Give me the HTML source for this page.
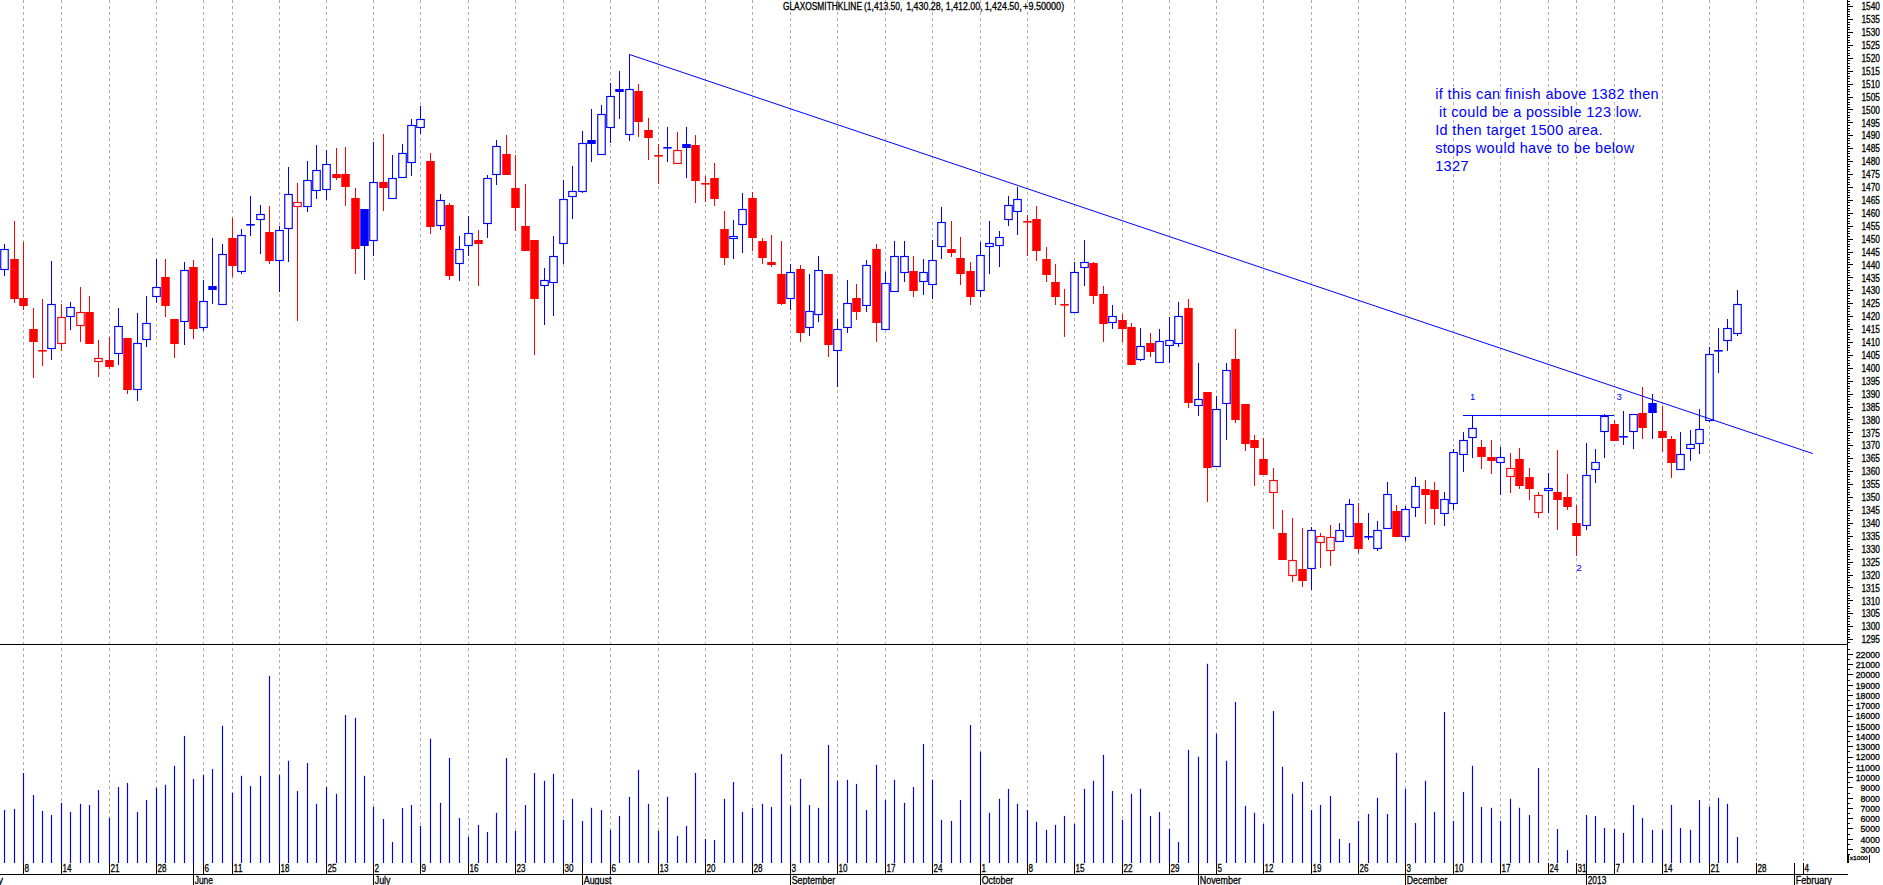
<!DOCTYPE html>
<html lang="en"><head><meta charset="utf-8"><title>GLAXOSMITHKLINE chart</title>
<style>html,body{margin:0;padding:0;background:#fff;overflow:hidden}body{width:1883px;height:885px}svg{display:block;font-family:"Liberation Sans",Arial,sans-serif}.g{stroke:#adadad;stroke-width:1;stroke-dasharray:3 3;fill:none}.k{stroke:#000;stroke-width:1;fill:none}.v{stroke:#0000ff;stroke-width:1.15}.wb{stroke:#0000ff;stroke-width:1}.wr{stroke:#ff0000;stroke-width:1}.hb{fill:#fff;stroke:#0000ff;stroke-width:1.15}.hr{fill:#fff;stroke:#ff0000;stroke-width:1.15}.fb{fill:#0000ff}.fr{fill:#ff0000}.t{font-size:10px;fill:#000;stroke:#000;stroke-width:0.3px}.bl{fill:#0000ff}</style></head><body>
<svg width="1883" height="885" viewBox="0 0 1883 885">
<rect width="1883" height="885" fill="#fff"/>
<g class="g">
<line x1="23.5" y1="0" x2="23.5" y2="862.5"/>
<line x1="61.5" y1="0" x2="61.5" y2="862.5"/>
<line x1="109.5" y1="0" x2="109.5" y2="862.5"/>
<line x1="156.5" y1="0" x2="156.5" y2="862.5"/>
<line x1="203.5" y1="0" x2="203.5" y2="862.5"/>
<line x1="232.5" y1="0" x2="232.5" y2="862.5"/>
<line x1="279.5" y1="0" x2="279.5" y2="862.5"/>
<line x1="326.5" y1="0" x2="326.5" y2="862.5"/>
<line x1="373.5" y1="0" x2="373.5" y2="862.5"/>
<line x1="420.5" y1="0" x2="420.5" y2="862.5"/>
<line x1="468.5" y1="0" x2="468.5" y2="862.5"/>
<line x1="515.5" y1="0" x2="515.5" y2="862.5"/>
<line x1="563.5" y1="0" x2="563.5" y2="862.5"/>
<line x1="610.5" y1="0" x2="610.5" y2="862.5"/>
<line x1="658.5" y1="0" x2="658.5" y2="862.5"/>
<line x1="705.5" y1="0" x2="705.5" y2="862.5"/>
<line x1="752.5" y1="0" x2="752.5" y2="862.5"/>
<line x1="790.5" y1="0" x2="790.5" y2="862.5"/>
<line x1="837.5" y1="0" x2="837.5" y2="862.5"/>
<line x1="885.5" y1="0" x2="885.5" y2="862.5"/>
<line x1="932.5" y1="0" x2="932.5" y2="862.5"/>
<line x1="980.5" y1="0" x2="980.5" y2="862.5"/>
<line x1="1027.5" y1="0" x2="1027.5" y2="862.5"/>
<line x1="1074.5" y1="0" x2="1074.5" y2="862.5"/>
<line x1="1122.5" y1="0" x2="1122.5" y2="862.5"/>
<line x1="1169.5" y1="0" x2="1169.5" y2="862.5"/>
<line x1="1216.5" y1="0" x2="1216.5" y2="862.5"/>
<line x1="1263.5" y1="0" x2="1263.5" y2="862.5"/>
<line x1="1311.5" y1="0" x2="1311.5" y2="862.5"/>
<line x1="1358.5" y1="0" x2="1358.5" y2="862.5"/>
<line x1="1405.5" y1="0" x2="1405.5" y2="862.5"/>
<line x1="1453.5" y1="0" x2="1453.5" y2="862.5"/>
<line x1="1500.5" y1="0" x2="1500.5" y2="862.5"/>
<line x1="1548.5" y1="0" x2="1548.5" y2="862.5"/>
<line x1="1576.5" y1="0" x2="1576.5" y2="862.5"/>
<line x1="1614.5" y1="0" x2="1614.5" y2="862.5"/>
<line x1="1662.5" y1="0" x2="1662.5" y2="862.5"/>
<line x1="1709.5" y1="0" x2="1709.5" y2="862.5"/>
<line x1="1756.5" y1="0" x2="1756.5" y2="862.5"/>
<line x1="1803.5" y1="0" x2="1803.5" y2="862.5"/>
</g>
<g class="v">
<line x1="4.5" y1="810.0" x2="4.5" y2="863"/>
<line x1="14.5" y1="809.0" x2="14.5" y2="863"/>
<line x1="23.5" y1="773.0" x2="23.5" y2="863"/>
<line x1="33.5" y1="795.0" x2="33.5" y2="863"/>
<line x1="42.5" y1="810.9" x2="42.5" y2="863"/>
<line x1="51.5" y1="815.0" x2="51.5" y2="863"/>
<line x1="61.5" y1="802.9" x2="61.5" y2="863"/>
<line x1="70.5" y1="811.9" x2="70.5" y2="863"/>
<line x1="80.5" y1="803.8" x2="80.5" y2="863"/>
<line x1="89.5" y1="805.0" x2="89.5" y2="863"/>
<line x1="98.5" y1="790.0" x2="98.5" y2="863"/>
<line x1="109.5" y1="818.0" x2="109.5" y2="863"/>
<line x1="118.5" y1="787.0" x2="118.5" y2="863"/>
<line x1="127.5" y1="782.9" x2="127.5" y2="863"/>
<line x1="137.5" y1="811.9" x2="137.5" y2="863"/>
<line x1="146.5" y1="800.0" x2="146.5" y2="863"/>
<line x1="156.5" y1="787.9" x2="156.5" y2="863"/>
<line x1="165.5" y1="784.8" x2="165.5" y2="863"/>
<line x1="174.5" y1="765.8" x2="174.5" y2="863"/>
<line x1="184.5" y1="735.9" x2="184.5" y2="863"/>
<line x1="193.5" y1="778.9" x2="193.5" y2="863"/>
<line x1="203.5" y1="774.9" x2="203.5" y2="863"/>
<line x1="212.5" y1="768.9" x2="212.5" y2="863"/>
<line x1="222.5" y1="725.7" x2="222.5" y2="863"/>
<line x1="232.5" y1="792.9" x2="232.5" y2="863"/>
<line x1="241.5" y1="775.8" x2="241.5" y2="863"/>
<line x1="250.5" y1="786.0" x2="250.5" y2="863"/>
<line x1="260.5" y1="775.8" x2="260.5" y2="863"/>
<line x1="269.5" y1="675.9" x2="269.5" y2="863"/>
<line x1="279.5" y1="774.9" x2="279.5" y2="863"/>
<line x1="288.5" y1="760.8" x2="288.5" y2="863"/>
<line x1="297.5" y1="791.0" x2="297.5" y2="863"/>
<line x1="307.5" y1="763.0" x2="307.5" y2="863"/>
<line x1="316.5" y1="803.8" x2="316.5" y2="863"/>
<line x1="326.5" y1="787.0" x2="326.5" y2="863"/>
<line x1="336.5" y1="793.8" x2="336.5" y2="863"/>
<line x1="345.5" y1="715.0" x2="345.5" y2="863"/>
<line x1="355.5" y1="717.9" x2="355.5" y2="863"/>
<line x1="364.5" y1="775.8" x2="364.5" y2="863"/>
<line x1="373.5" y1="806.9" x2="373.5" y2="863"/>
<line x1="383.5" y1="819.0" x2="383.5" y2="863"/>
<line x1="392.5" y1="842.0" x2="392.5" y2="863"/>
<line x1="402.5" y1="808.1" x2="402.5" y2="863"/>
<line x1="411.5" y1="805.0" x2="411.5" y2="863"/>
<line x1="420.5" y1="825.9" x2="420.5" y2="863"/>
<line x1="430.5" y1="738.8" x2="430.5" y2="863"/>
<line x1="440.5" y1="802.9" x2="440.5" y2="863"/>
<line x1="449.5" y1="758.0" x2="449.5" y2="863"/>
<line x1="459.5" y1="818.0" x2="459.5" y2="863"/>
<line x1="468.5" y1="836.8" x2="468.5" y2="863"/>
<line x1="478.5" y1="824.9" x2="478.5" y2="863"/>
<line x1="487.5" y1="832.0" x2="487.5" y2="863"/>
<line x1="496.5" y1="812.8" x2="496.5" y2="863"/>
<line x1="506.5" y1="758.0" x2="506.5" y2="863"/>
<line x1="515.5" y1="830.9" x2="515.5" y2="863"/>
<line x1="525.5" y1="805.0" x2="525.5" y2="863"/>
<line x1="534.5" y1="773.0" x2="534.5" y2="863"/>
<line x1="544.5" y1="780.8" x2="544.5" y2="863"/>
<line x1="553.5" y1="773.9" x2="553.5" y2="863"/>
<line x1="563.5" y1="819.9" x2="563.5" y2="863"/>
<line x1="572.5" y1="798.8" x2="572.5" y2="863"/>
<line x1="582.5" y1="820.9" x2="582.5" y2="863"/>
<line x1="591.5" y1="807.8" x2="591.5" y2="863"/>
<line x1="601.5" y1="810.0" x2="601.5" y2="863"/>
<line x1="610.5" y1="829.9" x2="610.5" y2="863"/>
<line x1="619.5" y1="815.9" x2="619.5" y2="863"/>
<line x1="629.5" y1="796.9" x2="629.5" y2="863"/>
<line x1="638.5" y1="769.9" x2="638.5" y2="863"/>
<line x1="648.5" y1="803.8" x2="648.5" y2="863"/>
<line x1="658.5" y1="830.9" x2="658.5" y2="863"/>
<line x1="667.5" y1="796.9" x2="667.5" y2="863"/>
<line x1="677.5" y1="835.8" x2="677.5" y2="863"/>
<line x1="686.5" y1="825.9" x2="686.5" y2="863"/>
<line x1="695.5" y1="773.0" x2="695.5" y2="863"/>
<line x1="705.5" y1="838.9" x2="705.5" y2="863"/>
<line x1="714.5" y1="839.9" x2="714.5" y2="863"/>
<line x1="724.5" y1="798.8" x2="724.5" y2="863"/>
<line x1="733.5" y1="782.0" x2="733.5" y2="863"/>
<line x1="742.5" y1="811.9" x2="742.5" y2="863"/>
<line x1="752.5" y1="807.8" x2="752.5" y2="863"/>
<line x1="762.5" y1="803.8" x2="762.5" y2="863"/>
<line x1="771.5" y1="806.9" x2="771.5" y2="863"/>
<line x1="781.5" y1="754.0" x2="781.5" y2="863"/>
<line x1="790.5" y1="805.9" x2="790.5" y2="863"/>
<line x1="800.5" y1="778.9" x2="800.5" y2="863"/>
<line x1="809.5" y1="805.0" x2="809.5" y2="863"/>
<line x1="818.5" y1="807.8" x2="818.5" y2="863"/>
<line x1="828.5" y1="744.9" x2="828.5" y2="863"/>
<line x1="837.5" y1="780.8" x2="837.5" y2="863"/>
<line x1="847.5" y1="779.8" x2="847.5" y2="863"/>
<line x1="856.5" y1="783.9" x2="856.5" y2="863"/>
<line x1="866.5" y1="810.0" x2="866.5" y2="863"/>
<line x1="876.5" y1="764.9" x2="876.5" y2="863"/>
<line x1="885.5" y1="800.0" x2="885.5" y2="863"/>
<line x1="894.5" y1="779.8" x2="894.5" y2="863"/>
<line x1="904.5" y1="802.9" x2="904.5" y2="863"/>
<line x1="913.5" y1="787.0" x2="913.5" y2="863"/>
<line x1="923.5" y1="744.0" x2="923.5" y2="863"/>
<line x1="932.5" y1="779.8" x2="932.5" y2="863"/>
<line x1="941.5" y1="819.9" x2="941.5" y2="863"/>
<line x1="951.5" y1="820.9" x2="951.5" y2="863"/>
<line x1="960.5" y1="800.0" x2="960.5" y2="863"/>
<line x1="970.5" y1="725.0" x2="970.5" y2="863"/>
<line x1="980.5" y1="751.8" x2="980.5" y2="863"/>
<line x1="989.5" y1="812.8" x2="989.5" y2="863"/>
<line x1="999.5" y1="798.8" x2="999.5" y2="863"/>
<line x1="1008.5" y1="788.9" x2="1008.5" y2="863"/>
<line x1="1017.5" y1="803.8" x2="1017.5" y2="863"/>
<line x1="1027.5" y1="810.0" x2="1027.5" y2="863"/>
<line x1="1036.5" y1="821.8" x2="1036.5" y2="863"/>
<line x1="1046.5" y1="829.9" x2="1046.5" y2="863"/>
<line x1="1055.5" y1="824.9" x2="1055.5" y2="863"/>
<line x1="1064.5" y1="815.9" x2="1064.5" y2="863"/>
<line x1="1074.5" y1="824.0" x2="1074.5" y2="863"/>
<line x1="1084.5" y1="788.9" x2="1084.5" y2="863"/>
<line x1="1093.5" y1="780.8" x2="1093.5" y2="863"/>
<line x1="1103.5" y1="754.9" x2="1103.5" y2="863"/>
<line x1="1112.5" y1="791.0" x2="1112.5" y2="863"/>
<line x1="1122.5" y1="819.9" x2="1122.5" y2="863"/>
<line x1="1131.5" y1="793.8" x2="1131.5" y2="863"/>
<line x1="1140.5" y1="788.9" x2="1140.5" y2="863"/>
<line x1="1150.5" y1="815.9" x2="1150.5" y2="863"/>
<line x1="1159.5" y1="811.9" x2="1159.5" y2="863"/>
<line x1="1169.5" y1="829.0" x2="1169.5" y2="863"/>
<line x1="1178.5" y1="842.0" x2="1178.5" y2="863"/>
<line x1="1188.5" y1="749.9" x2="1188.5" y2="863"/>
<line x1="1198.5" y1="756.8" x2="1198.5" y2="863"/>
<line x1="1207.5" y1="663.8" x2="1207.5" y2="863"/>
<line x1="1216.5" y1="733.8" x2="1216.5" y2="863"/>
<line x1="1226.5" y1="760.8" x2="1226.5" y2="863"/>
<line x1="1235.5" y1="702.0" x2="1235.5" y2="863"/>
<line x1="1245.5" y1="805.9" x2="1245.5" y2="863"/>
<line x1="1254.5" y1="812.8" x2="1254.5" y2="863"/>
<line x1="1263.5" y1="824.0" x2="1263.5" y2="863"/>
<line x1="1273.5" y1="711.0" x2="1273.5" y2="863"/>
<line x1="1282.5" y1="766.8" x2="1282.5" y2="863"/>
<line x1="1292.5" y1="793.8" x2="1292.5" y2="863"/>
<line x1="1302.5" y1="782.0" x2="1302.5" y2="863"/>
<line x1="1311.5" y1="810.0" x2="1311.5" y2="863"/>
<line x1="1320.5" y1="805.0" x2="1320.5" y2="863"/>
<line x1="1330.5" y1="796.0" x2="1330.5" y2="863"/>
<line x1="1339.5" y1="838.9" x2="1339.5" y2="863"/>
<line x1="1349.5" y1="843.0" x2="1349.5" y2="863"/>
<line x1="1358.5" y1="820.9" x2="1358.5" y2="863"/>
<line x1="1368.5" y1="814.0" x2="1368.5" y2="863"/>
<line x1="1377.5" y1="797.9" x2="1377.5" y2="863"/>
<line x1="1387.5" y1="814.0" x2="1387.5" y2="863"/>
<line x1="1396.5" y1="752.8" x2="1396.5" y2="863"/>
<line x1="1405.5" y1="788.9" x2="1405.5" y2="863"/>
<line x1="1415.5" y1="823.0" x2="1415.5" y2="863"/>
<line x1="1425.5" y1="780.8" x2="1425.5" y2="863"/>
<line x1="1434.5" y1="811.9" x2="1434.5" y2="863"/>
<line x1="1444.5" y1="712.0" x2="1444.5" y2="863"/>
<line x1="1453.5" y1="820.9" x2="1453.5" y2="863"/>
<line x1="1463.5" y1="791.9" x2="1463.5" y2="863"/>
<line x1="1472.5" y1="765.8" x2="1472.5" y2="863"/>
<line x1="1481.5" y1="806.9" x2="1481.5" y2="863"/>
<line x1="1491.5" y1="807.8" x2="1491.5" y2="863"/>
<line x1="1500.5" y1="820.9" x2="1500.5" y2="863"/>
<line x1="1510.5" y1="798.8" x2="1510.5" y2="863"/>
<line x1="1519.5" y1="807.8" x2="1519.5" y2="863"/>
<line x1="1529.5" y1="815.0" x2="1529.5" y2="863"/>
<line x1="1538.5" y1="768.0" x2="1538.5" y2="863"/>
<line x1="1557.5" y1="829.0" x2="1557.5" y2="863"/>
<line x1="1567.5" y1="850.1" x2="1567.5" y2="863"/>
<line x1="1586.5" y1="815.0" x2="1586.5" y2="863"/>
<line x1="1595.5" y1="815.9" x2="1595.5" y2="863"/>
<line x1="1604.5" y1="828.0" x2="1604.5" y2="863"/>
<line x1="1614.5" y1="829.0" x2="1614.5" y2="863"/>
<line x1="1623.5" y1="833.0" x2="1623.5" y2="863"/>
<line x1="1633.5" y1="805.0" x2="1633.5" y2="863"/>
<line x1="1642.5" y1="818.0" x2="1642.5" y2="863"/>
<line x1="1652.5" y1="829.9" x2="1652.5" y2="863"/>
<line x1="1662.5" y1="829.9" x2="1662.5" y2="863"/>
<line x1="1671.5" y1="805.0" x2="1671.5" y2="863"/>
<line x1="1680.5" y1="828.0" x2="1680.5" y2="863"/>
<line x1="1690.5" y1="829.9" x2="1690.5" y2="863"/>
<line x1="1699.5" y1="800.0" x2="1699.5" y2="863"/>
<line x1="1709.5" y1="806.9" x2="1709.5" y2="863"/>
<line x1="1718.5" y1="797.9" x2="1718.5" y2="863"/>
<line x1="1727.5" y1="803.8" x2="1727.5" y2="863"/>
<line x1="1737.5" y1="837.0" x2="1737.5" y2="863"/>
</g>
<line class="wb" x1="4.5" y1="244" x2="4.5" y2="276"/>
<rect class="hb" x="0.75" y="249.5" width="7.5" height="20"/>
<line class="wr" x1="14.5" y1="221" x2="14.5" y2="303"/>
<rect class="fr" x="10.25" y="259" width="8.5" height="40"/>
<line class="wr" x1="23.5" y1="242" x2="23.5" y2="310"/>
<rect class="fr" x="19.25" y="298" width="8.5" height="8"/>
<line class="wr" x1="33.5" y1="308" x2="33.5" y2="378"/>
<rect class="fr" x="29.25" y="329" width="8.5" height="13"/>
<line class="wr" x1="42.5" y1="299" x2="42.5" y2="366"/>
<rect class="fr" x="38.25" y="350" width="8.5" height="1.6"/>
<line class="wb" x1="51.5" y1="261" x2="51.5" y2="360"/>
<rect class="hb" x="47.75" y="304.5" width="7.5" height="44"/>
<line class="wr" x1="61.5" y1="304" x2="61.5" y2="351"/>
<rect class="hr" x="57.75" y="317.5" width="7.5" height="26"/>
<line class="wb" x1="70.5" y1="302" x2="70.5" y2="330"/>
<rect class="hb" x="66.75" y="307.5" width="7.5" height="9"/>
<line class="wr" x1="80.5" y1="287" x2="80.5" y2="342"/>
<rect class="hr" x="76.75" y="312.5" width="7.5" height="13"/>
<line class="wr" x1="89.5" y1="296" x2="89.5" y2="344"/>
<rect class="fr" x="85.25" y="312" width="8.5" height="32"/>
<line class="wr" x1="98.5" y1="340" x2="98.5" y2="377"/>
<rect class="hr" x="94.75" y="358.5" width="7.5" height="3"/>
<line class="wr" x1="109.5" y1="337" x2="109.5" y2="369"/>
<rect class="fr" x="105.25" y="360" width="8.5" height="7"/>
<line class="wb" x1="118.5" y1="308" x2="118.5" y2="365"/>
<rect class="hb" x="114.75" y="326.5" width="7.5" height="27"/>
<line class="wr" x1="127.5" y1="338" x2="127.5" y2="394"/>
<rect class="fr" x="123.25" y="338" width="8.5" height="52"/>
<line class="wb" x1="137.5" y1="313" x2="137.5" y2="401"/>
<rect class="hb" x="133.75" y="343.5" width="7.5" height="46"/>
<line class="wb" x1="146.5" y1="296" x2="146.5" y2="347"/>
<rect class="hb" x="142.75" y="323.5" width="7.5" height="16"/>
<line class="wb" x1="156.5" y1="259" x2="156.5" y2="303"/>
<rect class="hb" x="152.75" y="287.5" width="7.5" height="9"/>
<line class="wr" x1="165.5" y1="259" x2="165.5" y2="317"/>
<rect class="fr" x="161.25" y="277" width="8.5" height="29"/>
<line class="wr" x1="174.5" y1="319" x2="174.5" y2="358"/>
<rect class="fr" x="170.25" y="319" width="8.5" height="25"/>
<line class="wb" x1="184.5" y1="262" x2="184.5" y2="345"/>
<rect class="hb" x="180.75" y="270.5" width="7.5" height="51"/>
<line class="wr" x1="193.5" y1="260" x2="193.5" y2="339"/>
<rect class="fr" x="189.25" y="267" width="8.5" height="62"/>
<line class="wb" x1="203.5" y1="280" x2="203.5" y2="331"/>
<rect class="hb" x="199.75" y="301.5" width="7.5" height="26"/>
<line class="wb" x1="212.5" y1="238" x2="212.5" y2="304"/>
<rect class="fb" x="208.25" y="286" width="8.5" height="4"/>
<line class="wb" x1="222.5" y1="244" x2="222.5" y2="305"/>
<rect class="hb" x="218.75" y="254.5" width="7.5" height="50"/>
<line class="wr" x1="232.5" y1="218" x2="232.5" y2="277"/>
<rect class="fr" x="228.25" y="238" width="8.5" height="28"/>
<line class="wb" x1="241.5" y1="229" x2="241.5" y2="274"/>
<rect class="hb" x="237.75" y="235.5" width="7.5" height="36"/>
<line class="wb" x1="250.5" y1="196" x2="250.5" y2="236"/>
<rect class="fb" x="246.25" y="224" width="8.5" height="1.6"/>
<line class="wb" x1="260.5" y1="205" x2="260.5" y2="254"/>
<rect class="hb" x="256.75" y="214.5" width="7.5" height="5"/>
<line class="wr" x1="269.5" y1="206" x2="269.5" y2="264"/>
<rect class="fr" x="265.25" y="232" width="8.5" height="29"/>
<line class="wb" x1="279.5" y1="226" x2="279.5" y2="292"/>
<rect class="hb" x="275.75" y="230.5" width="7.5" height="30"/>
<line class="wb" x1="288.5" y1="167" x2="288.5" y2="262"/>
<rect class="hb" x="284.75" y="194.5" width="7.5" height="34"/>
<line class="wr" x1="297.5" y1="183" x2="297.5" y2="321"/>
<rect class="hr" x="293.75" y="202.5" width="7.5" height="4"/>
<line class="wb" x1="307.5" y1="161" x2="307.5" y2="212"/>
<rect class="hb" x="303.75" y="180.5" width="7.5" height="26"/>
<line class="wb" x1="316.5" y1="145" x2="316.5" y2="199"/>
<rect class="hb" x="312.75" y="170.5" width="7.5" height="20"/>
<line class="wb" x1="326.5" y1="150" x2="326.5" y2="200"/>
<rect class="hb" x="322.75" y="164.5" width="7.5" height="25"/>
<line class="wr" x1="336.5" y1="148" x2="336.5" y2="180"/>
<rect class="fr" x="332.25" y="174" width="8.5" height="4"/>
<line class="wr" x1="345.5" y1="147" x2="345.5" y2="206"/>
<rect class="fr" x="341.25" y="174" width="8.5" height="13"/>
<line class="wr" x1="355.5" y1="188" x2="355.5" y2="274"/>
<rect class="fr" x="351.25" y="198" width="8.5" height="51"/>
<line class="wb" x1="364.5" y1="209" x2="364.5" y2="280"/>
<rect class="fb" x="360.25" y="209" width="8.5" height="37"/>
<line class="wb" x1="373.5" y1="142" x2="373.5" y2="256"/>
<rect class="hb" x="369.75" y="182.5" width="7.5" height="58"/>
<line class="wr" x1="383.5" y1="134" x2="383.5" y2="211"/>
<rect class="fr" x="379.25" y="182" width="8.5" height="6"/>
<line class="wb" x1="392.5" y1="155" x2="392.5" y2="199"/>
<rect class="hb" x="388.75" y="178.5" width="7.5" height="20"/>
<line class="wb" x1="402.5" y1="144" x2="402.5" y2="178"/>
<rect class="hb" x="398.75" y="153.5" width="7.5" height="24"/>
<line class="wb" x1="411.5" y1="119" x2="411.5" y2="176"/>
<rect class="hb" x="407.75" y="125.5" width="7.5" height="37"/>
<line class="wb" x1="420.5" y1="106" x2="420.5" y2="134"/>
<rect class="hb" x="416.75" y="119.5" width="7.5" height="8"/>
<line class="wr" x1="430.5" y1="153" x2="430.5" y2="234"/>
<rect class="fr" x="426.25" y="161" width="8.5" height="66"/>
<line class="wb" x1="440.5" y1="194" x2="440.5" y2="230"/>
<rect class="hb" x="436.75" y="200.5" width="7.5" height="25"/>
<line class="wr" x1="449.5" y1="203" x2="449.5" y2="280"/>
<rect class="fr" x="445.25" y="205" width="8.5" height="71"/>
<line class="wb" x1="459.5" y1="236" x2="459.5" y2="281"/>
<rect class="hb" x="455.75" y="249.5" width="7.5" height="14"/>
<line class="wb" x1="468.5" y1="216" x2="468.5" y2="256"/>
<rect class="hb" x="464.75" y="233.5" width="7.5" height="12"/>
<line class="wr" x1="478.5" y1="230" x2="478.5" y2="286"/>
<rect class="fr" x="474.25" y="240" width="8.5" height="4"/>
<line class="wb" x1="487.5" y1="175" x2="487.5" y2="238"/>
<rect class="hb" x="483.75" y="178.5" width="7.5" height="45"/>
<line class="wb" x1="496.5" y1="140" x2="496.5" y2="185"/>
<rect class="hb" x="492.75" y="146.5" width="7.5" height="28"/>
<line class="wr" x1="506.5" y1="135" x2="506.5" y2="175"/>
<rect class="fr" x="502.25" y="154" width="8.5" height="21"/>
<line class="wr" x1="515.5" y1="155" x2="515.5" y2="231"/>
<rect class="fr" x="511.25" y="188" width="8.5" height="20"/>
<line class="wr" x1="525.5" y1="184" x2="525.5" y2="251"/>
<rect class="fr" x="521.25" y="226" width="8.5" height="25"/>
<line class="wr" x1="534.5" y1="240" x2="534.5" y2="355"/>
<rect class="fr" x="530.25" y="240" width="8.5" height="59"/>
<line class="wb" x1="544.5" y1="268" x2="544.5" y2="325"/>
<rect class="hb" x="540.75" y="280.5" width="7.5" height="5"/>
<line class="wb" x1="553.5" y1="236" x2="553.5" y2="316"/>
<rect class="hb" x="549.75" y="256.5" width="7.5" height="26"/>
<line class="wb" x1="563.5" y1="180" x2="563.5" y2="264"/>
<rect class="hb" x="559.75" y="199.5" width="7.5" height="44"/>
<line class="wb" x1="572.5" y1="166" x2="572.5" y2="219"/>
<rect class="hb" x="568.75" y="191.5" width="7.5" height="5"/>
<line class="wb" x1="582.5" y1="131" x2="582.5" y2="193"/>
<rect class="hb" x="578.75" y="143.5" width="7.5" height="48"/>
<line class="wb" x1="591.5" y1="109" x2="591.5" y2="162"/>
<rect class="fb" x="587.25" y="140" width="8.5" height="4"/>
<line class="wb" x1="601.5" y1="105" x2="601.5" y2="155"/>
<rect class="hb" x="597.75" y="114.5" width="7.5" height="40"/>
<line class="wb" x1="610.5" y1="83" x2="610.5" y2="143"/>
<rect class="hb" x="606.75" y="96.5" width="7.5" height="31"/>
<line class="wb" x1="619.5" y1="71" x2="619.5" y2="119"/>
<rect class="fb" x="615.25" y="89" width="8.5" height="3"/>
<line class="wb" x1="629.5" y1="54" x2="629.5" y2="141"/>
<rect class="hb" x="625.75" y="89.5" width="7.5" height="45"/>
<line class="wr" x1="638.5" y1="84" x2="638.5" y2="137"/>
<rect class="fr" x="634.25" y="91" width="8.5" height="31"/>
<line class="wr" x1="648.5" y1="118" x2="648.5" y2="160"/>
<rect class="fr" x="644.25" y="130" width="8.5" height="8"/>
<line class="wr" x1="658.5" y1="144" x2="658.5" y2="184"/>
<rect class="fr" x="654.25" y="155" width="8.5" height="1.6"/>
<line class="wb" x1="667.5" y1="127" x2="667.5" y2="162"/>
<rect class="fb" x="663.25" y="147" width="8.5" height="1.6"/>
<line class="wr" x1="677.5" y1="132" x2="677.5" y2="164"/>
<rect class="hr" x="673.75" y="150.5" width="7.5" height="13"/>
<line class="wb" x1="686.5" y1="127" x2="686.5" y2="178"/>
<rect class="fb" x="682.25" y="144" width="8.5" height="4"/>
<line class="wr" x1="695.5" y1="135" x2="695.5" y2="203"/>
<rect class="fr" x="691.25" y="145" width="8.5" height="36"/>
<line class="wr" x1="705.5" y1="176" x2="705.5" y2="202"/>
<rect class="fr" x="701.25" y="183" width="8.5" height="1.6"/>
<line class="wr" x1="714.5" y1="163" x2="714.5" y2="206"/>
<rect class="fr" x="710.25" y="178" width="8.5" height="21"/>
<line class="wr" x1="724.5" y1="211" x2="724.5" y2="265"/>
<rect class="fr" x="720.25" y="229" width="8.5" height="29"/>
<line class="wb" x1="733.5" y1="220" x2="733.5" y2="259"/>
<rect class="hb" x="729.75" y="236.5" width="7.5" height="2"/>
<line class="wb" x1="742.5" y1="193" x2="742.5" y2="253"/>
<rect class="hb" x="738.75" y="209.5" width="7.5" height="15"/>
<line class="wr" x1="752.5" y1="192" x2="752.5" y2="251"/>
<rect class="fr" x="748.25" y="198" width="8.5" height="40"/>
<line class="wr" x1="762.5" y1="238" x2="762.5" y2="264"/>
<rect class="fr" x="758.25" y="241" width="8.5" height="17"/>
<line class="wr" x1="771.5" y1="235" x2="771.5" y2="267"/>
<rect class="fr" x="767.25" y="262" width="8.5" height="3"/>
<line class="wr" x1="781.5" y1="241" x2="781.5" y2="305"/>
<rect class="fr" x="777.25" y="274" width="8.5" height="30"/>
<line class="wb" x1="790.5" y1="264" x2="790.5" y2="310"/>
<rect class="hb" x="786.75" y="272.5" width="7.5" height="26"/>
<line class="wr" x1="800.5" y1="265" x2="800.5" y2="342"/>
<rect class="fr" x="796.25" y="269" width="8.5" height="64"/>
<line class="wb" x1="809.5" y1="274" x2="809.5" y2="336"/>
<rect class="hb" x="805.75" y="311.5" width="7.5" height="16"/>
<line class="wb" x1="818.5" y1="256" x2="818.5" y2="322"/>
<rect class="hb" x="814.75" y="270.5" width="7.5" height="44"/>
<line class="wr" x1="828.5" y1="274" x2="828.5" y2="357"/>
<rect class="fr" x="824.25" y="274" width="8.5" height="71"/>
<line class="wb" x1="837.5" y1="319" x2="837.5" y2="387"/>
<rect class="hb" x="833.75" y="329.5" width="7.5" height="21"/>
<line class="wb" x1="847.5" y1="280" x2="847.5" y2="333"/>
<rect class="hb" x="843.75" y="303.5" width="7.5" height="24"/>
<line class="wr" x1="856.5" y1="284" x2="856.5" y2="320"/>
<rect class="fr" x="852.25" y="298" width="8.5" height="14"/>
<line class="wb" x1="866.5" y1="260" x2="866.5" y2="312"/>
<rect class="hb" x="862.75" y="265.5" width="7.5" height="40"/>
<line class="wr" x1="876.5" y1="244" x2="876.5" y2="342"/>
<rect class="fr" x="872.25" y="249" width="8.5" height="74"/>
<line class="wb" x1="885.5" y1="272" x2="885.5" y2="330"/>
<rect class="hb" x="881.75" y="283.5" width="7.5" height="46"/>
<line class="wb" x1="894.5" y1="241" x2="894.5" y2="292"/>
<rect class="hb" x="890.75" y="256.5" width="7.5" height="35"/>
<line class="wb" x1="904.5" y1="241" x2="904.5" y2="282"/>
<rect class="hb" x="900.75" y="256.5" width="7.5" height="16"/>
<line class="wr" x1="913.5" y1="256" x2="913.5" y2="297"/>
<rect class="fr" x="909.25" y="271" width="8.5" height="20"/>
<line class="wb" x1="923.5" y1="259" x2="923.5" y2="295"/>
<rect class="hb" x="919.75" y="272.5" width="7.5" height="9"/>
<line class="wb" x1="932.5" y1="240" x2="932.5" y2="299"/>
<rect class="hb" x="928.75" y="260.5" width="7.5" height="24"/>
<line class="wb" x1="941.5" y1="207" x2="941.5" y2="259"/>
<rect class="hb" x="937.75" y="222.5" width="7.5" height="24"/>
<line class="wr" x1="951.5" y1="221" x2="951.5" y2="257"/>
<rect class="fr" x="947.25" y="249" width="8.5" height="4"/>
<line class="wr" x1="960.5" y1="237" x2="960.5" y2="285"/>
<rect class="fr" x="956.25" y="258" width="8.5" height="16"/>
<line class="wr" x1="970.5" y1="262" x2="970.5" y2="305"/>
<rect class="fr" x="966.25" y="271" width="8.5" height="26"/>
<line class="wb" x1="980.5" y1="242" x2="980.5" y2="297"/>
<rect class="hb" x="976.75" y="255.5" width="7.5" height="35"/>
<line class="wb" x1="989.5" y1="221" x2="989.5" y2="274"/>
<rect class="hb" x="985.75" y="243.5" width="7.5" height="3"/>
<line class="wb" x1="999.5" y1="231" x2="999.5" y2="267"/>
<rect class="hb" x="995.75" y="237.5" width="7.5" height="8"/>
<line class="wb" x1="1008.5" y1="196" x2="1008.5" y2="226"/>
<rect class="hb" x="1004.75" y="205.5" width="7.5" height="14"/>
<line class="wb" x1="1017.5" y1="187" x2="1017.5" y2="235"/>
<rect class="hb" x="1013.75" y="199.5" width="7.5" height="12"/>
<line class="wr" x1="1027.5" y1="215" x2="1027.5" y2="256"/>
<rect class="fr" x="1023.25" y="221" width="8.5" height="1.6"/>
<line class="wr" x1="1036.5" y1="206" x2="1036.5" y2="261"/>
<rect class="fr" x="1032.25" y="219" width="8.5" height="32"/>
<line class="wr" x1="1046.5" y1="247" x2="1046.5" y2="282"/>
<rect class="fr" x="1042.25" y="259" width="8.5" height="16"/>
<line class="wr" x1="1055.5" y1="264" x2="1055.5" y2="305"/>
<rect class="fr" x="1051.25" y="282" width="8.5" height="15"/>
<line class="wr" x1="1064.5" y1="289" x2="1064.5" y2="337"/>
<rect class="fr" x="1060.25" y="304" width="8.5" height="1.6"/>
<line class="wb" x1="1074.5" y1="262" x2="1074.5" y2="313"/>
<rect class="hb" x="1070.75" y="272.5" width="7.5" height="40"/>
<line class="wb" x1="1084.5" y1="240" x2="1084.5" y2="286"/>
<rect class="hb" x="1080.75" y="262.5" width="7.5" height="5"/>
<line class="wr" x1="1093.5" y1="262" x2="1093.5" y2="304"/>
<rect class="fr" x="1089.25" y="263" width="8.5" height="33"/>
<line class="wr" x1="1103.5" y1="286" x2="1103.5" y2="342"/>
<rect class="fr" x="1099.25" y="294" width="8.5" height="30"/>
<line class="wb" x1="1112.5" y1="305" x2="1112.5" y2="329"/>
<rect class="hb" x="1108.75" y="316.5" width="7.5" height="6"/>
<line class="wr" x1="1122.5" y1="314" x2="1122.5" y2="342"/>
<rect class="fr" x="1118.25" y="320" width="8.5" height="9"/>
<line class="wr" x1="1131.5" y1="323" x2="1131.5" y2="365"/>
<rect class="fr" x="1127.25" y="327" width="8.5" height="38"/>
<line class="wb" x1="1140.5" y1="328" x2="1140.5" y2="361"/>
<rect class="hb" x="1136.75" y="346.5" width="7.5" height="13"/>
<line class="wr" x1="1150.5" y1="333" x2="1150.5" y2="357"/>
<rect class="fr" x="1146.25" y="343" width="8.5" height="9"/>
<line class="wb" x1="1159.5" y1="329" x2="1159.5" y2="363"/>
<rect class="hb" x="1155.75" y="341.5" width="7.5" height="21"/>
<line class="wb" x1="1169.5" y1="317" x2="1169.5" y2="363"/>
<rect class="hb" x="1165.75" y="340.5" width="7.5" height="5"/>
<line class="wb" x1="1178.5" y1="302" x2="1178.5" y2="347"/>
<rect class="hb" x="1174.75" y="316.5" width="7.5" height="27"/>
<line class="wr" x1="1188.5" y1="299" x2="1188.5" y2="408"/>
<rect class="fr" x="1184.25" y="308" width="8.5" height="95"/>
<line class="wb" x1="1198.5" y1="363" x2="1198.5" y2="416"/>
<rect class="hb" x="1194.75" y="399.5" width="7.5" height="6"/>
<line class="wr" x1="1207.5" y1="392" x2="1207.5" y2="502"/>
<rect class="fr" x="1203.25" y="392" width="8.5" height="76"/>
<line class="wb" x1="1216.5" y1="396" x2="1216.5" y2="467"/>
<rect class="hb" x="1212.75" y="409.5" width="7.5" height="57"/>
<line class="wb" x1="1226.5" y1="363" x2="1226.5" y2="440"/>
<rect class="hb" x="1222.75" y="370.5" width="7.5" height="33"/>
<line class="wr" x1="1235.5" y1="329" x2="1235.5" y2="423"/>
<rect class="fr" x="1231.25" y="359" width="8.5" height="61"/>
<line class="wr" x1="1245.5" y1="404" x2="1245.5" y2="451"/>
<rect class="fr" x="1241.25" y="404" width="8.5" height="40"/>
<line class="wr" x1="1254.5" y1="435" x2="1254.5" y2="486"/>
<rect class="fr" x="1250.25" y="440" width="8.5" height="8"/>
<line class="wr" x1="1263.5" y1="438" x2="1263.5" y2="475"/>
<rect class="fr" x="1259.25" y="459" width="8.5" height="16"/>
<line class="wr" x1="1273.5" y1="468" x2="1273.5" y2="529"/>
<rect class="hr" x="1269.75" y="480.5" width="7.5" height="12"/>
<line class="wr" x1="1282.5" y1="510" x2="1282.5" y2="560"/>
<rect class="fr" x="1278.25" y="533" width="8.5" height="27"/>
<line class="wr" x1="1292.5" y1="518" x2="1292.5" y2="582"/>
<rect class="hr" x="1288.75" y="560.5" width="7.5" height="15"/>
<line class="wr" x1="1302.5" y1="528" x2="1302.5" y2="587"/>
<rect class="fr" x="1298.25" y="569" width="8.5" height="12"/>
<line class="wb" x1="1311.5" y1="527" x2="1311.5" y2="590"/>
<rect class="hb" x="1307.75" y="530.5" width="7.5" height="38"/>
<line class="wr" x1="1320.5" y1="533" x2="1320.5" y2="568"/>
<rect class="hr" x="1316.75" y="536.5" width="7.5" height="6"/>
<line class="wr" x1="1330.5" y1="525" x2="1330.5" y2="566"/>
<rect class="hr" x="1326.75" y="537.5" width="7.5" height="13"/>
<line class="wb" x1="1339.5" y1="523" x2="1339.5" y2="542"/>
<rect class="hb" x="1335.75" y="530.5" width="7.5" height="11"/>
<line class="wb" x1="1349.5" y1="499" x2="1349.5" y2="537"/>
<rect class="hb" x="1345.75" y="504.5" width="7.5" height="32"/>
<line class="wr" x1="1358.5" y1="503" x2="1358.5" y2="553"/>
<rect class="fr" x="1354.25" y="523" width="8.5" height="26"/>
<line class="wb" x1="1368.5" y1="513" x2="1368.5" y2="540"/>
<rect class="fb" x="1364.25" y="536" width="8.5" height="1.6"/>
<line class="wb" x1="1377.5" y1="521" x2="1377.5" y2="551"/>
<rect class="hb" x="1373.75" y="530.5" width="7.5" height="18"/>
<line class="wb" x1="1387.5" y1="482" x2="1387.5" y2="529"/>
<rect class="hb" x="1383.75" y="494.5" width="7.5" height="34"/>
<line class="wr" x1="1396.5" y1="505" x2="1396.5" y2="537"/>
<rect class="fr" x="1392.25" y="511" width="8.5" height="26"/>
<line class="wb" x1="1405.5" y1="506" x2="1405.5" y2="541"/>
<rect class="hb" x="1401.75" y="509.5" width="7.5" height="27"/>
<line class="wb" x1="1415.5" y1="477" x2="1415.5" y2="517"/>
<rect class="hb" x="1411.75" y="486.5" width="7.5" height="21"/>
<line class="wr" x1="1425.5" y1="480" x2="1425.5" y2="524"/>
<rect class="fr" x="1421.25" y="489" width="8.5" height="6"/>
<line class="wr" x1="1434.5" y1="482" x2="1434.5" y2="525"/>
<rect class="fr" x="1430.25" y="490" width="8.5" height="19"/>
<line class="wb" x1="1444.5" y1="492" x2="1444.5" y2="526"/>
<rect class="hb" x="1440.75" y="499.5" width="7.5" height="14"/>
<line class="wb" x1="1453.5" y1="449" x2="1453.5" y2="510"/>
<rect class="hb" x="1449.75" y="452.5" width="7.5" height="51"/>
<line class="wb" x1="1463.5" y1="432" x2="1463.5" y2="472"/>
<rect class="hb" x="1459.75" y="440.5" width="7.5" height="14"/>
<line class="wb" x1="1472.5" y1="416" x2="1472.5" y2="458"/>
<rect class="hb" x="1468.75" y="428.5" width="7.5" height="9"/>
<line class="wr" x1="1481.5" y1="440" x2="1481.5" y2="469"/>
<rect class="fr" x="1477.25" y="447" width="8.5" height="10"/>
<line class="wr" x1="1491.5" y1="440" x2="1491.5" y2="474"/>
<rect class="fr" x="1487.25" y="457" width="8.5" height="4"/>
<line class="wb" x1="1500.5" y1="447" x2="1500.5" y2="495"/>
<rect class="hb" x="1496.75" y="457.5" width="7.5" height="5"/>
<line class="wr" x1="1510.5" y1="453" x2="1510.5" y2="493"/>
<rect class="hr" x="1506.75" y="468.5" width="7.5" height="8"/>
<line class="wr" x1="1519.5" y1="448" x2="1519.5" y2="489"/>
<rect class="fr" x="1515.25" y="459" width="8.5" height="27"/>
<line class="wr" x1="1529.5" y1="468" x2="1529.5" y2="500"/>
<rect class="fr" x="1525.25" y="477" width="8.5" height="12"/>
<line class="wr" x1="1538.5" y1="492" x2="1538.5" y2="518"/>
<rect class="hr" x="1534.75" y="495.5" width="7.5" height="17"/>
<line class="wb" x1="1548.5" y1="473" x2="1548.5" y2="513"/>
<rect class="hb" x="1544.75" y="488.5" width="7.5" height="2"/>
<line class="wr" x1="1557.5" y1="450" x2="1557.5" y2="530"/>
<rect class="fr" x="1553.25" y="492" width="8.5" height="8"/>
<line class="wr" x1="1567.5" y1="474" x2="1567.5" y2="510"/>
<rect class="fr" x="1563.25" y="497" width="8.5" height="10"/>
<line class="wr" x1="1576.5" y1="505" x2="1576.5" y2="556"/>
<rect class="fr" x="1572.25" y="523" width="8.5" height="13"/>
<line class="wb" x1="1586.5" y1="443" x2="1586.5" y2="530"/>
<rect class="hb" x="1582.75" y="475.5" width="7.5" height="50"/>
<line class="wb" x1="1595.5" y1="449" x2="1595.5" y2="483"/>
<rect class="hb" x="1591.75" y="462.5" width="7.5" height="7"/>
<line class="wb" x1="1604.5" y1="414" x2="1604.5" y2="458"/>
<rect class="hb" x="1600.75" y="416.5" width="7.5" height="15"/>
<line class="wr" x1="1614.5" y1="420" x2="1614.5" y2="441"/>
<rect class="fr" x="1610.25" y="424" width="8.5" height="17"/>
<line class="wb" x1="1623.5" y1="411" x2="1623.5" y2="445"/>
<rect class="fb" x="1619.25" y="436" width="8.5" height="1.6"/>
<line class="wb" x1="1633.5" y1="414" x2="1633.5" y2="449"/>
<rect class="hb" x="1629.75" y="414.5" width="7.5" height="17"/>
<line class="wr" x1="1642.5" y1="387" x2="1642.5" y2="439"/>
<rect class="fr" x="1638.25" y="413" width="8.5" height="15"/>
<line class="wb" x1="1652.5" y1="394" x2="1652.5" y2="439"/>
<rect class="fb" x="1648.25" y="403" width="8.5" height="10"/>
<line class="wr" x1="1662.5" y1="406" x2="1662.5" y2="452"/>
<rect class="fr" x="1658.25" y="431" width="8.5" height="7"/>
<line class="wr" x1="1671.5" y1="436" x2="1671.5" y2="478"/>
<rect class="fr" x="1667.25" y="439" width="8.5" height="24"/>
<line class="wb" x1="1680.5" y1="432" x2="1680.5" y2="470"/>
<rect class="hb" x="1676.75" y="454.5" width="7.5" height="15"/>
<line class="wb" x1="1690.5" y1="430" x2="1690.5" y2="461"/>
<rect class="hb" x="1686.75" y="444.5" width="7.5" height="4"/>
<line class="wb" x1="1699.5" y1="409" x2="1699.5" y2="454"/>
<rect class="hb" x="1695.75" y="429.5" width="7.5" height="14"/>
<line class="wb" x1="1709.5" y1="347" x2="1709.5" y2="422"/>
<rect class="hb" x="1705.75" y="354.5" width="7.5" height="66"/>
<line class="wb" x1="1718.5" y1="328" x2="1718.5" y2="373"/>
<rect class="fb" x="1714.25" y="350" width="8.5" height="1.6"/>
<line class="wb" x1="1727.5" y1="319" x2="1727.5" y2="351"/>
<rect class="hb" x="1723.75" y="328.5" width="7.5" height="12"/>
<line class="wb" x1="1737.5" y1="290" x2="1737.5" y2="336"/>
<rect class="hb" x="1733.75" y="304.5" width="7.5" height="29"/>
<line x1="629.5" y1="54.5" x2="1812.8" y2="453.6" stroke="#0000ff" stroke-width="1"/>
<line x1="1463" y1="415.5" x2="1614" y2="415.5" stroke="#0000ff" stroke-width="1.1"/>
<g class="k" shape-rendering="crispEdges">
<line x1="0" y1="644.5" x2="1847.5" y2="644.5"/>
<line x1="1847.5" y1="0" x2="1847.5" y2="863"/>
<line x1="0" y1="874.5" x2="1847.5" y2="874.5"/>
<line x1="1847.5" y1="642.5" x2="1850.0" y2="642.5"/>
<line x1="1847.5" y1="639.5" x2="1853.0" y2="639.5"/>
<line x1="1847.5" y1="637.5" x2="1850.0" y2="637.5"/>
<line x1="1847.5" y1="634.5" x2="1850.0" y2="634.5"/>
<line x1="1847.5" y1="631.5" x2="1850.0" y2="631.5"/>
<line x1="1847.5" y1="629.5" x2="1850.0" y2="629.5"/>
<line x1="1847.5" y1="626.5" x2="1853.0" y2="626.5"/>
<line x1="1847.5" y1="624.5" x2="1850.0" y2="624.5"/>
<line x1="1847.5" y1="621.5" x2="1850.0" y2="621.5"/>
<line x1="1847.5" y1="618.5" x2="1850.0" y2="618.5"/>
<line x1="1847.5" y1="616.5" x2="1850.0" y2="616.5"/>
<line x1="1847.5" y1="613.5" x2="1853.0" y2="613.5"/>
<line x1="1847.5" y1="611.5" x2="1850.0" y2="611.5"/>
<line x1="1847.5" y1="608.5" x2="1850.0" y2="608.5"/>
<line x1="1847.5" y1="606.5" x2="1850.0" y2="606.5"/>
<line x1="1847.5" y1="603.5" x2="1850.0" y2="603.5"/>
<line x1="1847.5" y1="600.5" x2="1853.0" y2="600.5"/>
<line x1="1847.5" y1="598.5" x2="1850.0" y2="598.5"/>
<line x1="1847.5" y1="595.5" x2="1850.0" y2="595.5"/>
<line x1="1847.5" y1="593.5" x2="1850.0" y2="593.5"/>
<line x1="1847.5" y1="590.5" x2="1850.0" y2="590.5"/>
<line x1="1847.5" y1="587.5" x2="1853.0" y2="587.5"/>
<line x1="1847.5" y1="585.5" x2="1850.0" y2="585.5"/>
<line x1="1847.5" y1="582.5" x2="1850.0" y2="582.5"/>
<line x1="1847.5" y1="580.5" x2="1850.0" y2="580.5"/>
<line x1="1847.5" y1="577.5" x2="1850.0" y2="577.5"/>
<line x1="1847.5" y1="575.5" x2="1853.0" y2="575.5"/>
<line x1="1847.5" y1="572.5" x2="1850.0" y2="572.5"/>
<line x1="1847.5" y1="569.5" x2="1850.0" y2="569.5"/>
<line x1="1847.5" y1="567.5" x2="1850.0" y2="567.5"/>
<line x1="1847.5" y1="564.5" x2="1850.0" y2="564.5"/>
<line x1="1847.5" y1="562.5" x2="1853.0" y2="562.5"/>
<line x1="1847.5" y1="559.5" x2="1850.0" y2="559.5"/>
<line x1="1847.5" y1="556.5" x2="1850.0" y2="556.5"/>
<line x1="1847.5" y1="554.5" x2="1850.0" y2="554.5"/>
<line x1="1847.5" y1="551.5" x2="1850.0" y2="551.5"/>
<line x1="1847.5" y1="549.5" x2="1853.0" y2="549.5"/>
<line x1="1847.5" y1="546.5" x2="1850.0" y2="546.5"/>
<line x1="1847.5" y1="544.5" x2="1850.0" y2="544.5"/>
<line x1="1847.5" y1="541.5" x2="1850.0" y2="541.5"/>
<line x1="1847.5" y1="538.5" x2="1850.0" y2="538.5"/>
<line x1="1847.5" y1="536.5" x2="1853.0" y2="536.5"/>
<line x1="1847.5" y1="533.5" x2="1850.0" y2="533.5"/>
<line x1="1847.5" y1="531.5" x2="1850.0" y2="531.5"/>
<line x1="1847.5" y1="528.5" x2="1850.0" y2="528.5"/>
<line x1="1847.5" y1="525.5" x2="1850.0" y2="525.5"/>
<line x1="1847.5" y1="523.5" x2="1853.0" y2="523.5"/>
<line x1="1847.5" y1="520.5" x2="1850.0" y2="520.5"/>
<line x1="1847.5" y1="518.5" x2="1850.0" y2="518.5"/>
<line x1="1847.5" y1="515.5" x2="1850.0" y2="515.5"/>
<line x1="1847.5" y1="513.5" x2="1850.0" y2="513.5"/>
<line x1="1847.5" y1="510.5" x2="1853.0" y2="510.5"/>
<line x1="1847.5" y1="507.5" x2="1850.0" y2="507.5"/>
<line x1="1847.5" y1="505.5" x2="1850.0" y2="505.5"/>
<line x1="1847.5" y1="502.5" x2="1850.0" y2="502.5"/>
<line x1="1847.5" y1="500.5" x2="1850.0" y2="500.5"/>
<line x1="1847.5" y1="497.5" x2="1853.0" y2="497.5"/>
<line x1="1847.5" y1="494.5" x2="1850.0" y2="494.5"/>
<line x1="1847.5" y1="492.5" x2="1850.0" y2="492.5"/>
<line x1="1847.5" y1="489.5" x2="1850.0" y2="489.5"/>
<line x1="1847.5" y1="487.5" x2="1850.0" y2="487.5"/>
<line x1="1847.5" y1="484.5" x2="1853.0" y2="484.5"/>
<line x1="1847.5" y1="482.5" x2="1850.0" y2="482.5"/>
<line x1="1847.5" y1="479.5" x2="1850.0" y2="479.5"/>
<line x1="1847.5" y1="476.5" x2="1850.0" y2="476.5"/>
<line x1="1847.5" y1="474.5" x2="1850.0" y2="474.5"/>
<line x1="1847.5" y1="471.5" x2="1853.0" y2="471.5"/>
<line x1="1847.5" y1="469.5" x2="1850.0" y2="469.5"/>
<line x1="1847.5" y1="466.5" x2="1850.0" y2="466.5"/>
<line x1="1847.5" y1="463.5" x2="1850.0" y2="463.5"/>
<line x1="1847.5" y1="461.5" x2="1850.0" y2="461.5"/>
<line x1="1847.5" y1="458.5" x2="1853.0" y2="458.5"/>
<line x1="1847.5" y1="456.5" x2="1850.0" y2="456.5"/>
<line x1="1847.5" y1="453.5" x2="1850.0" y2="453.5"/>
<line x1="1847.5" y1="450.5" x2="1850.0" y2="450.5"/>
<line x1="1847.5" y1="448.5" x2="1850.0" y2="448.5"/>
<line x1="1847.5" y1="445.5" x2="1853.0" y2="445.5"/>
<line x1="1847.5" y1="443.5" x2="1850.0" y2="443.5"/>
<line x1="1847.5" y1="440.5" x2="1850.0" y2="440.5"/>
<line x1="1847.5" y1="438.5" x2="1850.0" y2="438.5"/>
<line x1="1847.5" y1="435.5" x2="1850.0" y2="435.5"/>
<line x1="1847.5" y1="432.5" x2="1853.0" y2="432.5"/>
<line x1="1847.5" y1="430.5" x2="1850.0" y2="430.5"/>
<line x1="1847.5" y1="427.5" x2="1850.0" y2="427.5"/>
<line x1="1847.5" y1="425.5" x2="1850.0" y2="425.5"/>
<line x1="1847.5" y1="422.5" x2="1850.0" y2="422.5"/>
<line x1="1847.5" y1="419.5" x2="1853.0" y2="419.5"/>
<line x1="1847.5" y1="417.5" x2="1850.0" y2="417.5"/>
<line x1="1847.5" y1="414.5" x2="1850.0" y2="414.5"/>
<line x1="1847.5" y1="412.5" x2="1850.0" y2="412.5"/>
<line x1="1847.5" y1="409.5" x2="1850.0" y2="409.5"/>
<line x1="1847.5" y1="407.5" x2="1853.0" y2="407.5"/>
<line x1="1847.5" y1="404.5" x2="1850.0" y2="404.5"/>
<line x1="1847.5" y1="401.5" x2="1850.0" y2="401.5"/>
<line x1="1847.5" y1="399.5" x2="1850.0" y2="399.5"/>
<line x1="1847.5" y1="396.5" x2="1850.0" y2="396.5"/>
<line x1="1847.5" y1="394.5" x2="1853.0" y2="394.5"/>
<line x1="1847.5" y1="391.5" x2="1850.0" y2="391.5"/>
<line x1="1847.5" y1="388.5" x2="1850.0" y2="388.5"/>
<line x1="1847.5" y1="386.5" x2="1850.0" y2="386.5"/>
<line x1="1847.5" y1="383.5" x2="1850.0" y2="383.5"/>
<line x1="1847.5" y1="381.5" x2="1853.0" y2="381.5"/>
<line x1="1847.5" y1="378.5" x2="1850.0" y2="378.5"/>
<line x1="1847.5" y1="376.5" x2="1850.0" y2="376.5"/>
<line x1="1847.5" y1="373.5" x2="1850.0" y2="373.5"/>
<line x1="1847.5" y1="370.5" x2="1850.0" y2="370.5"/>
<line x1="1847.5" y1="368.5" x2="1853.0" y2="368.5"/>
<line x1="1847.5" y1="365.5" x2="1850.0" y2="365.5"/>
<line x1="1847.5" y1="363.5" x2="1850.0" y2="363.5"/>
<line x1="1847.5" y1="360.5" x2="1850.0" y2="360.5"/>
<line x1="1847.5" y1="357.5" x2="1850.0" y2="357.5"/>
<line x1="1847.5" y1="355.5" x2="1853.0" y2="355.5"/>
<line x1="1847.5" y1="352.5" x2="1850.0" y2="352.5"/>
<line x1="1847.5" y1="350.5" x2="1850.0" y2="350.5"/>
<line x1="1847.5" y1="347.5" x2="1850.0" y2="347.5"/>
<line x1="1847.5" y1="345.5" x2="1850.0" y2="345.5"/>
<line x1="1847.5" y1="342.5" x2="1853.0" y2="342.5"/>
<line x1="1847.5" y1="339.5" x2="1850.0" y2="339.5"/>
<line x1="1847.5" y1="337.5" x2="1850.0" y2="337.5"/>
<line x1="1847.5" y1="334.5" x2="1850.0" y2="334.5"/>
<line x1="1847.5" y1="332.5" x2="1850.0" y2="332.5"/>
<line x1="1847.5" y1="329.5" x2="1853.0" y2="329.5"/>
<line x1="1847.5" y1="326.5" x2="1850.0" y2="326.5"/>
<line x1="1847.5" y1="324.5" x2="1850.0" y2="324.5"/>
<line x1="1847.5" y1="321.5" x2="1850.0" y2="321.5"/>
<line x1="1847.5" y1="319.5" x2="1850.0" y2="319.5"/>
<line x1="1847.5" y1="316.5" x2="1853.0" y2="316.5"/>
<line x1="1847.5" y1="314.5" x2="1850.0" y2="314.5"/>
<line x1="1847.5" y1="311.5" x2="1850.0" y2="311.5"/>
<line x1="1847.5" y1="308.5" x2="1850.0" y2="308.5"/>
<line x1="1847.5" y1="306.5" x2="1850.0" y2="306.5"/>
<line x1="1847.5" y1="303.5" x2="1853.0" y2="303.5"/>
<line x1="1847.5" y1="301.5" x2="1850.0" y2="301.5"/>
<line x1="1847.5" y1="298.5" x2="1850.0" y2="298.5"/>
<line x1="1847.5" y1="295.5" x2="1850.0" y2="295.5"/>
<line x1="1847.5" y1="293.5" x2="1850.0" y2="293.5"/>
<line x1="1847.5" y1="290.5" x2="1853.0" y2="290.5"/>
<line x1="1847.5" y1="288.5" x2="1850.0" y2="288.5"/>
<line x1="1847.5" y1="285.5" x2="1850.0" y2="285.5"/>
<line x1="1847.5" y1="283.5" x2="1850.0" y2="283.5"/>
<line x1="1847.5" y1="280.5" x2="1850.0" y2="280.5"/>
<line x1="1847.5" y1="277.5" x2="1853.0" y2="277.5"/>
<line x1="1847.5" y1="275.5" x2="1850.0" y2="275.5"/>
<line x1="1847.5" y1="272.5" x2="1850.0" y2="272.5"/>
<line x1="1847.5" y1="270.5" x2="1850.0" y2="270.5"/>
<line x1="1847.5" y1="267.5" x2="1850.0" y2="267.5"/>
<line x1="1847.5" y1="264.5" x2="1853.0" y2="264.5"/>
<line x1="1847.5" y1="262.5" x2="1850.0" y2="262.5"/>
<line x1="1847.5" y1="259.5" x2="1850.0" y2="259.5"/>
<line x1="1847.5" y1="257.5" x2="1850.0" y2="257.5"/>
<line x1="1847.5" y1="254.5" x2="1850.0" y2="254.5"/>
<line x1="1847.5" y1="252.5" x2="1853.0" y2="252.5"/>
<line x1="1847.5" y1="249.5" x2="1850.0" y2="249.5"/>
<line x1="1847.5" y1="246.5" x2="1850.0" y2="246.5"/>
<line x1="1847.5" y1="244.5" x2="1850.0" y2="244.5"/>
<line x1="1847.5" y1="241.5" x2="1850.0" y2="241.5"/>
<line x1="1847.5" y1="239.5" x2="1853.0" y2="239.5"/>
<line x1="1847.5" y1="236.5" x2="1850.0" y2="236.5"/>
<line x1="1847.5" y1="233.5" x2="1850.0" y2="233.5"/>
<line x1="1847.5" y1="231.5" x2="1850.0" y2="231.5"/>
<line x1="1847.5" y1="228.5" x2="1850.0" y2="228.5"/>
<line x1="1847.5" y1="226.5" x2="1853.0" y2="226.5"/>
<line x1="1847.5" y1="223.5" x2="1850.0" y2="223.5"/>
<line x1="1847.5" y1="221.5" x2="1850.0" y2="221.5"/>
<line x1="1847.5" y1="218.5" x2="1850.0" y2="218.5"/>
<line x1="1847.5" y1="215.5" x2="1850.0" y2="215.5"/>
<line x1="1847.5" y1="213.5" x2="1853.0" y2="213.5"/>
<line x1="1847.5" y1="210.5" x2="1850.0" y2="210.5"/>
<line x1="1847.5" y1="208.5" x2="1850.0" y2="208.5"/>
<line x1="1847.5" y1="205.5" x2="1850.0" y2="205.5"/>
<line x1="1847.5" y1="202.5" x2="1850.0" y2="202.5"/>
<line x1="1847.5" y1="200.5" x2="1853.0" y2="200.5"/>
<line x1="1847.5" y1="197.5" x2="1850.0" y2="197.5"/>
<line x1="1847.5" y1="195.5" x2="1850.0" y2="195.5"/>
<line x1="1847.5" y1="192.5" x2="1850.0" y2="192.5"/>
<line x1="1847.5" y1="190.5" x2="1850.0" y2="190.5"/>
<line x1="1847.5" y1="187.5" x2="1853.0" y2="187.5"/>
<line x1="1847.5" y1="184.5" x2="1850.0" y2="184.5"/>
<line x1="1847.5" y1="182.5" x2="1850.0" y2="182.5"/>
<line x1="1847.5" y1="179.5" x2="1850.0" y2="179.5"/>
<line x1="1847.5" y1="177.5" x2="1850.0" y2="177.5"/>
<line x1="1847.5" y1="174.5" x2="1853.0" y2="174.5"/>
<line x1="1847.5" y1="171.5" x2="1850.0" y2="171.5"/>
<line x1="1847.5" y1="169.5" x2="1850.0" y2="169.5"/>
<line x1="1847.5" y1="166.5" x2="1850.0" y2="166.5"/>
<line x1="1847.5" y1="164.5" x2="1850.0" y2="164.5"/>
<line x1="1847.5" y1="161.5" x2="1853.0" y2="161.5"/>
<line x1="1847.5" y1="159.5" x2="1850.0" y2="159.5"/>
<line x1="1847.5" y1="156.5" x2="1850.0" y2="156.5"/>
<line x1="1847.5" y1="153.5" x2="1850.0" y2="153.5"/>
<line x1="1847.5" y1="151.5" x2="1850.0" y2="151.5"/>
<line x1="1847.5" y1="148.5" x2="1853.0" y2="148.5"/>
<line x1="1847.5" y1="146.5" x2="1850.0" y2="146.5"/>
<line x1="1847.5" y1="143.5" x2="1850.0" y2="143.5"/>
<line x1="1847.5" y1="140.5" x2="1850.0" y2="140.5"/>
<line x1="1847.5" y1="138.5" x2="1850.0" y2="138.5"/>
<line x1="1847.5" y1="135.5" x2="1853.0" y2="135.5"/>
<line x1="1847.5" y1="133.5" x2="1850.0" y2="133.5"/>
<line x1="1847.5" y1="130.5" x2="1850.0" y2="130.5"/>
<line x1="1847.5" y1="128.5" x2="1850.0" y2="128.5"/>
<line x1="1847.5" y1="125.5" x2="1850.0" y2="125.5"/>
<line x1="1847.5" y1="122.5" x2="1853.0" y2="122.5"/>
<line x1="1847.5" y1="120.5" x2="1850.0" y2="120.5"/>
<line x1="1847.5" y1="117.5" x2="1850.0" y2="117.5"/>
<line x1="1847.5" y1="115.5" x2="1850.0" y2="115.5"/>
<line x1="1847.5" y1="112.5" x2="1850.0" y2="112.5"/>
<line x1="1847.5" y1="109.5" x2="1853.0" y2="109.5"/>
<line x1="1847.5" y1="107.5" x2="1850.0" y2="107.5"/>
<line x1="1847.5" y1="104.5" x2="1850.0" y2="104.5"/>
<line x1="1847.5" y1="102.5" x2="1850.0" y2="102.5"/>
<line x1="1847.5" y1="99.5" x2="1850.0" y2="99.5"/>
<line x1="1847.5" y1="97.5" x2="1853.0" y2="97.5"/>
<line x1="1847.5" y1="94.5" x2="1850.0" y2="94.5"/>
<line x1="1847.5" y1="91.5" x2="1850.0" y2="91.5"/>
<line x1="1847.5" y1="89.5" x2="1850.0" y2="89.5"/>
<line x1="1847.5" y1="86.5" x2="1850.0" y2="86.5"/>
<line x1="1847.5" y1="84.5" x2="1853.0" y2="84.5"/>
<line x1="1847.5" y1="81.5" x2="1850.0" y2="81.5"/>
<line x1="1847.5" y1="78.5" x2="1850.0" y2="78.5"/>
<line x1="1847.5" y1="76.5" x2="1850.0" y2="76.5"/>
<line x1="1847.5" y1="73.5" x2="1850.0" y2="73.5"/>
<line x1="1847.5" y1="71.5" x2="1853.0" y2="71.5"/>
<line x1="1847.5" y1="68.5" x2="1850.0" y2="68.5"/>
<line x1="1847.5" y1="66.5" x2="1850.0" y2="66.5"/>
<line x1="1847.5" y1="63.5" x2="1850.0" y2="63.5"/>
<line x1="1847.5" y1="60.5" x2="1850.0" y2="60.5"/>
<line x1="1847.5" y1="58.5" x2="1853.0" y2="58.5"/>
<line x1="1847.5" y1="55.5" x2="1850.0" y2="55.5"/>
<line x1="1847.5" y1="53.5" x2="1850.0" y2="53.5"/>
<line x1="1847.5" y1="50.5" x2="1850.0" y2="50.5"/>
<line x1="1847.5" y1="47.5" x2="1850.0" y2="47.5"/>
<line x1="1847.5" y1="45.5" x2="1853.0" y2="45.5"/>
<line x1="1847.5" y1="42.5" x2="1850.0" y2="42.5"/>
<line x1="1847.5" y1="40.5" x2="1850.0" y2="40.5"/>
<line x1="1847.5" y1="37.5" x2="1850.0" y2="37.5"/>
<line x1="1847.5" y1="35.5" x2="1850.0" y2="35.5"/>
<line x1="1847.5" y1="32.5" x2="1853.0" y2="32.5"/>
<line x1="1847.5" y1="29.5" x2="1850.0" y2="29.5"/>
<line x1="1847.5" y1="27.5" x2="1850.0" y2="27.5"/>
<line x1="1847.5" y1="24.5" x2="1850.0" y2="24.5"/>
<line x1="1847.5" y1="22.5" x2="1850.0" y2="22.5"/>
<line x1="1847.5" y1="19.5" x2="1853.0" y2="19.5"/>
<line x1="1847.5" y1="16.5" x2="1850.0" y2="16.5"/>
<line x1="1847.5" y1="14.5" x2="1850.0" y2="14.5"/>
<line x1="1847.5" y1="11.5" x2="1850.0" y2="11.5"/>
<line x1="1847.5" y1="9.5" x2="1850.0" y2="9.5"/>
<line x1="1847.5" y1="6.5" x2="1853.0" y2="6.5"/>
<line x1="1847.5" y1="4.5" x2="1850.0" y2="4.5"/>
<line x1="1847.5" y1="1.5" x2="1850.0" y2="1.5"/>
<line x1="1847.5" y1="854.5" x2="1850.0" y2="854.5"/>
<line x1="1847.5" y1="849.5" x2="1853.0" y2="849.5"/>
<line x1="1847.5" y1="844.5" x2="1850.0" y2="844.5"/>
<line x1="1847.5" y1="839.5" x2="1853.0" y2="839.5"/>
<line x1="1847.5" y1="834.5" x2="1850.0" y2="834.5"/>
<line x1="1847.5" y1="828.5" x2="1853.0" y2="828.5"/>
<line x1="1847.5" y1="823.5" x2="1850.0" y2="823.5"/>
<line x1="1847.5" y1="818.5" x2="1853.0" y2="818.5"/>
<line x1="1847.5" y1="813.5" x2="1850.0" y2="813.5"/>
<line x1="1847.5" y1="808.5" x2="1853.0" y2="808.5"/>
<line x1="1847.5" y1="803.5" x2="1850.0" y2="803.5"/>
<line x1="1847.5" y1="798.5" x2="1853.0" y2="798.5"/>
<line x1="1847.5" y1="793.5" x2="1850.0" y2="793.5"/>
<line x1="1847.5" y1="787.5" x2="1853.0" y2="787.5"/>
<line x1="1847.5" y1="782.5" x2="1850.0" y2="782.5"/>
<line x1="1847.5" y1="777.5" x2="1853.0" y2="777.5"/>
<line x1="1847.5" y1="772.5" x2="1850.0" y2="772.5"/>
<line x1="1847.5" y1="767.5" x2="1853.0" y2="767.5"/>
<line x1="1847.5" y1="762.5" x2="1850.0" y2="762.5"/>
<line x1="1847.5" y1="757.5" x2="1853.0" y2="757.5"/>
<line x1="1847.5" y1="751.5" x2="1850.0" y2="751.5"/>
<line x1="1847.5" y1="746.5" x2="1853.0" y2="746.5"/>
<line x1="1847.5" y1="741.5" x2="1850.0" y2="741.5"/>
<line x1="1847.5" y1="736.5" x2="1853.0" y2="736.5"/>
<line x1="1847.5" y1="731.5" x2="1850.0" y2="731.5"/>
<line x1="1847.5" y1="726.5" x2="1853.0" y2="726.5"/>
<line x1="1847.5" y1="721.5" x2="1850.0" y2="721.5"/>
<line x1="1847.5" y1="716.5" x2="1853.0" y2="716.5"/>
<line x1="1847.5" y1="710.5" x2="1850.0" y2="710.5"/>
<line x1="1847.5" y1="705.5" x2="1853.0" y2="705.5"/>
<line x1="1847.5" y1="700.5" x2="1850.0" y2="700.5"/>
<line x1="1847.5" y1="695.5" x2="1853.0" y2="695.5"/>
<line x1="1847.5" y1="690.5" x2="1850.0" y2="690.5"/>
<line x1="1847.5" y1="685.5" x2="1853.0" y2="685.5"/>
<line x1="1847.5" y1="680.5" x2="1850.0" y2="680.5"/>
<line x1="1847.5" y1="674.5" x2="1853.0" y2="674.5"/>
<line x1="1847.5" y1="669.5" x2="1850.0" y2="669.5"/>
<line x1="1847.5" y1="664.5" x2="1853.0" y2="664.5"/>
<line x1="1847.5" y1="659.5" x2="1850.0" y2="659.5"/>
<line x1="1847.5" y1="654.5" x2="1853.0" y2="654.5"/>
<line x1="1847.5" y1="649.5" x2="1850.0" y2="649.5"/>
<line x1="23.5" y1="863" x2="23.5" y2="874.5"/>
<line x1="61.5" y1="863" x2="61.5" y2="874.5"/>
<line x1="109.5" y1="863" x2="109.5" y2="874.5"/>
<line x1="156.5" y1="863" x2="156.5" y2="874.5"/>
<line x1="203.5" y1="863" x2="203.5" y2="874.5"/>
<line x1="232.5" y1="863" x2="232.5" y2="874.5"/>
<line x1="279.5" y1="863" x2="279.5" y2="874.5"/>
<line x1="326.5" y1="863" x2="326.5" y2="874.5"/>
<line x1="373.5" y1="863" x2="373.5" y2="874.5"/>
<line x1="420.5" y1="863" x2="420.5" y2="874.5"/>
<line x1="468.5" y1="863" x2="468.5" y2="874.5"/>
<line x1="515.5" y1="863" x2="515.5" y2="874.5"/>
<line x1="563.5" y1="863" x2="563.5" y2="874.5"/>
<line x1="610.5" y1="863" x2="610.5" y2="874.5"/>
<line x1="658.5" y1="863" x2="658.5" y2="874.5"/>
<line x1="705.5" y1="863" x2="705.5" y2="874.5"/>
<line x1="752.5" y1="863" x2="752.5" y2="874.5"/>
<line x1="790.5" y1="863" x2="790.5" y2="874.5"/>
<line x1="837.5" y1="863" x2="837.5" y2="874.5"/>
<line x1="885.5" y1="863" x2="885.5" y2="874.5"/>
<line x1="932.5" y1="863" x2="932.5" y2="874.5"/>
<line x1="980.5" y1="863" x2="980.5" y2="874.5"/>
<line x1="1027.5" y1="863" x2="1027.5" y2="874.5"/>
<line x1="1074.5" y1="863" x2="1074.5" y2="874.5"/>
<line x1="1122.5" y1="863" x2="1122.5" y2="874.5"/>
<line x1="1169.5" y1="863" x2="1169.5" y2="874.5"/>
<line x1="1216.5" y1="863" x2="1216.5" y2="874.5"/>
<line x1="1263.5" y1="863" x2="1263.5" y2="874.5"/>
<line x1="1311.5" y1="863" x2="1311.5" y2="874.5"/>
<line x1="1358.5" y1="863" x2="1358.5" y2="874.5"/>
<line x1="1405.5" y1="863" x2="1405.5" y2="874.5"/>
<line x1="1453.5" y1="863" x2="1453.5" y2="874.5"/>
<line x1="1500.5" y1="863" x2="1500.5" y2="874.5"/>
<line x1="1548.5" y1="863" x2="1548.5" y2="874.5"/>
<line x1="1576.5" y1="863" x2="1576.5" y2="874.5"/>
<line x1="1614.5" y1="863" x2="1614.5" y2="874.5"/>
<line x1="1662.5" y1="863" x2="1662.5" y2="874.5"/>
<line x1="1709.5" y1="863" x2="1709.5" y2="874.5"/>
<line x1="1756.5" y1="863" x2="1756.5" y2="874.5"/>
<line x1="1803.5" y1="863" x2="1803.5" y2="874.5"/>
<line x1="193.5" y1="863" x2="193.5" y2="885"/>
<line x1="373.5" y1="863" x2="373.5" y2="885"/>
<line x1="582.5" y1="863" x2="582.5" y2="885"/>
<line x1="790.5" y1="863" x2="790.5" y2="885"/>
<line x1="980.5" y1="863" x2="980.5" y2="885"/>
<line x1="1198.5" y1="863" x2="1198.5" y2="885"/>
<line x1="1405.5" y1="863" x2="1405.5" y2="885"/>
<line x1="1586.5" y1="863" x2="1586.5" y2="885"/>
<line x1="1794.5" y1="863" x2="1794.5" y2="885"/>
</g>
<g class="t">
<text x="24.5" y="872" textLength="4.5" lengthAdjust="spacingAndGlyphs">8</text>
<text x="62.5" y="872" textLength="9.0" lengthAdjust="spacingAndGlyphs">14</text>
<text x="110.5" y="872" textLength="9.0" lengthAdjust="spacingAndGlyphs">21</text>
<text x="157.5" y="872" textLength="9.0" lengthAdjust="spacingAndGlyphs">28</text>
<text x="204.5" y="872" textLength="4.5" lengthAdjust="spacingAndGlyphs">6</text>
<text x="233.5" y="872" textLength="9.0" lengthAdjust="spacingAndGlyphs">11</text>
<text x="280.5" y="872" textLength="9.0" lengthAdjust="spacingAndGlyphs">18</text>
<text x="327.5" y="872" textLength="9.0" lengthAdjust="spacingAndGlyphs">25</text>
<text x="374.5" y="872" textLength="4.5" lengthAdjust="spacingAndGlyphs">2</text>
<text x="421.5" y="872" textLength="4.5" lengthAdjust="spacingAndGlyphs">9</text>
<text x="469.5" y="872" textLength="9.0" lengthAdjust="spacingAndGlyphs">16</text>
<text x="516.5" y="872" textLength="9.0" lengthAdjust="spacingAndGlyphs">23</text>
<text x="564.5" y="872" textLength="9.0" lengthAdjust="spacingAndGlyphs">30</text>
<text x="611.5" y="872" textLength="4.5" lengthAdjust="spacingAndGlyphs">6</text>
<text x="659.5" y="872" textLength="9.0" lengthAdjust="spacingAndGlyphs">13</text>
<text x="706.5" y="872" textLength="9.0" lengthAdjust="spacingAndGlyphs">20</text>
<text x="753.5" y="872" textLength="9.0" lengthAdjust="spacingAndGlyphs">28</text>
<text x="791.5" y="872" textLength="4.5" lengthAdjust="spacingAndGlyphs">3</text>
<text x="838.5" y="872" textLength="9.0" lengthAdjust="spacingAndGlyphs">10</text>
<text x="886.5" y="872" textLength="9.0" lengthAdjust="spacingAndGlyphs">17</text>
<text x="933.5" y="872" textLength="9.0" lengthAdjust="spacingAndGlyphs">24</text>
<text x="981.5" y="872" textLength="4.5" lengthAdjust="spacingAndGlyphs">1</text>
<text x="1028.5" y="872" textLength="4.5" lengthAdjust="spacingAndGlyphs">8</text>
<text x="1075.5" y="872" textLength="9.0" lengthAdjust="spacingAndGlyphs">15</text>
<text x="1123.5" y="872" textLength="9.0" lengthAdjust="spacingAndGlyphs">22</text>
<text x="1170.5" y="872" textLength="9.0" lengthAdjust="spacingAndGlyphs">29</text>
<text x="1217.5" y="872" textLength="4.5" lengthAdjust="spacingAndGlyphs">5</text>
<text x="1264.5" y="872" textLength="9.0" lengthAdjust="spacingAndGlyphs">12</text>
<text x="1312.5" y="872" textLength="9.0" lengthAdjust="spacingAndGlyphs">19</text>
<text x="1359.5" y="872" textLength="9.0" lengthAdjust="spacingAndGlyphs">26</text>
<text x="1406.5" y="872" textLength="4.5" lengthAdjust="spacingAndGlyphs">3</text>
<text x="1454.5" y="872" textLength="9.0" lengthAdjust="spacingAndGlyphs">10</text>
<text x="1501.5" y="872" textLength="9.0" lengthAdjust="spacingAndGlyphs">17</text>
<text x="1549.5" y="872" textLength="9.0" lengthAdjust="spacingAndGlyphs">24</text>
<text x="1577.5" y="872" textLength="9.0" lengthAdjust="spacingAndGlyphs">31</text>
<text x="1615.5" y="872" textLength="4.5" lengthAdjust="spacingAndGlyphs">7</text>
<text x="1663.5" y="872" textLength="9.0" lengthAdjust="spacingAndGlyphs">14</text>
<text x="1710.5" y="872" textLength="9.0" lengthAdjust="spacingAndGlyphs">21</text>
<text x="1757.5" y="872" textLength="9.0" lengthAdjust="spacingAndGlyphs">28</text>
<text x="1804.5" y="872" textLength="4.5" lengthAdjust="spacingAndGlyphs">4</text>
<text x="194.7" y="883.8" textLength="18.3" lengthAdjust="spacingAndGlyphs">June</text>
<text x="374.7" y="883.8" textLength="15.8" lengthAdjust="spacingAndGlyphs">July</text>
<text x="583.7" y="883.8" textLength="27.8" lengthAdjust="spacingAndGlyphs">August</text>
<text x="791.7" y="883.8" textLength="43.5" lengthAdjust="spacingAndGlyphs">September</text>
<text x="981.7" y="883.8" textLength="31.6" lengthAdjust="spacingAndGlyphs">October</text>
<text x="1199.7" y="883.8" textLength="41.3" lengthAdjust="spacingAndGlyphs">November</text>
<text x="1406.7" y="883.8" textLength="40.7" lengthAdjust="spacingAndGlyphs">December</text>
<text x="1587.7" y="883.8" textLength="18.6" lengthAdjust="spacingAndGlyphs">2013</text>
<text x="1795.7" y="883.8" textLength="36.1" lengthAdjust="spacingAndGlyphs">February</text>
<text x="3.1" y="883.8" text-anchor="end">May</text>
<text x="1880" y="643.2" text-anchor="end" textLength="18.6" lengthAdjust="spacingAndGlyphs">1295</text>
<text x="1880" y="630.3" text-anchor="end" textLength="18.6" lengthAdjust="spacingAndGlyphs">1300</text>
<text x="1880" y="617.4" text-anchor="end" textLength="18.6" lengthAdjust="spacingAndGlyphs">1305</text>
<text x="1880" y="604.5" text-anchor="end" textLength="18.6" lengthAdjust="spacingAndGlyphs">1310</text>
<text x="1880" y="591.5" text-anchor="end" textLength="18.6" lengthAdjust="spacingAndGlyphs">1315</text>
<text x="1880" y="578.6" text-anchor="end" textLength="18.6" lengthAdjust="spacingAndGlyphs">1320</text>
<text x="1880" y="565.7" text-anchor="end" textLength="18.6" lengthAdjust="spacingAndGlyphs">1325</text>
<text x="1880" y="552.8" text-anchor="end" textLength="18.6" lengthAdjust="spacingAndGlyphs">1330</text>
<text x="1880" y="539.9" text-anchor="end" textLength="18.6" lengthAdjust="spacingAndGlyphs">1335</text>
<text x="1880" y="526.9" text-anchor="end" textLength="18.6" lengthAdjust="spacingAndGlyphs">1340</text>
<text x="1880" y="514.0" text-anchor="end" textLength="18.6" lengthAdjust="spacingAndGlyphs">1345</text>
<text x="1880" y="501.1" text-anchor="end" textLength="18.6" lengthAdjust="spacingAndGlyphs">1350</text>
<text x="1880" y="488.2" text-anchor="end" textLength="18.6" lengthAdjust="spacingAndGlyphs">1355</text>
<text x="1880" y="475.3" text-anchor="end" textLength="18.6" lengthAdjust="spacingAndGlyphs">1360</text>
<text x="1880" y="462.3" text-anchor="end" textLength="18.6" lengthAdjust="spacingAndGlyphs">1365</text>
<text x="1880" y="449.4" text-anchor="end" textLength="18.6" lengthAdjust="spacingAndGlyphs">1370</text>
<text x="1880" y="436.5" text-anchor="end" textLength="18.6" lengthAdjust="spacingAndGlyphs">1375</text>
<text x="1880" y="423.6" text-anchor="end" textLength="18.6" lengthAdjust="spacingAndGlyphs">1380</text>
<text x="1880" y="410.7" text-anchor="end" textLength="18.6" lengthAdjust="spacingAndGlyphs">1385</text>
<text x="1880" y="397.8" text-anchor="end" textLength="18.6" lengthAdjust="spacingAndGlyphs">1390</text>
<text x="1880" y="384.8" text-anchor="end" textLength="18.6" lengthAdjust="spacingAndGlyphs">1395</text>
<text x="1880" y="371.9" text-anchor="end" textLength="18.6" lengthAdjust="spacingAndGlyphs">1400</text>
<text x="1880" y="359.0" text-anchor="end" textLength="18.6" lengthAdjust="spacingAndGlyphs">1405</text>
<text x="1880" y="346.1" text-anchor="end" textLength="18.6" lengthAdjust="spacingAndGlyphs">1410</text>
<text x="1880" y="333.2" text-anchor="end" textLength="18.6" lengthAdjust="spacingAndGlyphs">1415</text>
<text x="1880" y="320.2" text-anchor="end" textLength="18.6" lengthAdjust="spacingAndGlyphs">1420</text>
<text x="1880" y="307.3" text-anchor="end" textLength="18.6" lengthAdjust="spacingAndGlyphs">1425</text>
<text x="1880" y="294.4" text-anchor="end" textLength="18.6" lengthAdjust="spacingAndGlyphs">1430</text>
<text x="1880" y="281.5" text-anchor="end" textLength="18.6" lengthAdjust="spacingAndGlyphs">1435</text>
<text x="1880" y="268.6" text-anchor="end" textLength="18.6" lengthAdjust="spacingAndGlyphs">1440</text>
<text x="1880" y="255.7" text-anchor="end" textLength="18.6" lengthAdjust="spacingAndGlyphs">1445</text>
<text x="1880" y="242.7" text-anchor="end" textLength="18.6" lengthAdjust="spacingAndGlyphs">1450</text>
<text x="1880" y="229.8" text-anchor="end" textLength="18.6" lengthAdjust="spacingAndGlyphs">1455</text>
<text x="1880" y="216.9" text-anchor="end" textLength="18.6" lengthAdjust="spacingAndGlyphs">1460</text>
<text x="1880" y="204.0" text-anchor="end" textLength="18.6" lengthAdjust="spacingAndGlyphs">1465</text>
<text x="1880" y="191.1" text-anchor="end" textLength="18.6" lengthAdjust="spacingAndGlyphs">1470</text>
<text x="1880" y="178.1" text-anchor="end" textLength="18.6" lengthAdjust="spacingAndGlyphs">1475</text>
<text x="1880" y="165.2" text-anchor="end" textLength="18.6" lengthAdjust="spacingAndGlyphs">1480</text>
<text x="1880" y="152.3" text-anchor="end" textLength="18.6" lengthAdjust="spacingAndGlyphs">1485</text>
<text x="1880" y="139.4" text-anchor="end" textLength="18.6" lengthAdjust="spacingAndGlyphs">1490</text>
<text x="1880" y="126.5" text-anchor="end" textLength="18.6" lengthAdjust="spacingAndGlyphs">1495</text>
<text x="1880" y="113.5" text-anchor="end" textLength="18.6" lengthAdjust="spacingAndGlyphs">1500</text>
<text x="1880" y="100.6" text-anchor="end" textLength="18.6" lengthAdjust="spacingAndGlyphs">1505</text>
<text x="1880" y="87.7" text-anchor="end" textLength="18.6" lengthAdjust="spacingAndGlyphs">1510</text>
<text x="1880" y="74.8" text-anchor="end" textLength="18.6" lengthAdjust="spacingAndGlyphs">1515</text>
<text x="1880" y="61.9" text-anchor="end" textLength="18.6" lengthAdjust="spacingAndGlyphs">1520</text>
<text x="1880" y="49.0" text-anchor="end" textLength="18.6" lengthAdjust="spacingAndGlyphs">1525</text>
<text x="1880" y="36.0" text-anchor="end" textLength="18.6" lengthAdjust="spacingAndGlyphs">1530</text>
<text x="1880" y="23.1" text-anchor="end" textLength="18.6" lengthAdjust="spacingAndGlyphs">1535</text>
<text x="1880" y="10.2" text-anchor="end" textLength="18.6" lengthAdjust="spacingAndGlyphs">1540</text>
<text x="1880" y="852.8" font-size="9.2" text-anchor="end" textLength="19.5" lengthAdjust="spacingAndGlyphs">3000</text>
<text x="1880" y="842.5" font-size="9.2" text-anchor="end" textLength="19.5" lengthAdjust="spacingAndGlyphs">4000</text>
<text x="1880" y="832.3" font-size="9.2" text-anchor="end" textLength="19.5" lengthAdjust="spacingAndGlyphs">5000</text>
<text x="1880" y="822.0" font-size="9.2" text-anchor="end" textLength="19.5" lengthAdjust="spacingAndGlyphs">6000</text>
<text x="1880" y="811.7" font-size="9.2" text-anchor="end" textLength="19.5" lengthAdjust="spacingAndGlyphs">7000</text>
<text x="1880" y="801.5" font-size="9.2" text-anchor="end" textLength="19.5" lengthAdjust="spacingAndGlyphs">8000</text>
<text x="1880" y="791.2" font-size="9.2" text-anchor="end" textLength="19.5" lengthAdjust="spacingAndGlyphs">9000</text>
<text x="1880" y="780.9" font-size="9.2" text-anchor="end" textLength="24.3" lengthAdjust="spacingAndGlyphs">10000</text>
<text x="1880" y="770.6" font-size="9.2" text-anchor="end" textLength="24.3" lengthAdjust="spacingAndGlyphs">11000</text>
<text x="1880" y="760.4" font-size="9.2" text-anchor="end" textLength="24.3" lengthAdjust="spacingAndGlyphs">12000</text>
<text x="1880" y="750.1" font-size="9.2" text-anchor="end" textLength="24.3" lengthAdjust="spacingAndGlyphs">13000</text>
<text x="1880" y="739.8" font-size="9.2" text-anchor="end" textLength="24.3" lengthAdjust="spacingAndGlyphs">14000</text>
<text x="1880" y="729.6" font-size="9.2" text-anchor="end" textLength="24.3" lengthAdjust="spacingAndGlyphs">15000</text>
<text x="1880" y="719.3" font-size="9.2" text-anchor="end" textLength="24.3" lengthAdjust="spacingAndGlyphs">16000</text>
<text x="1880" y="709.0" font-size="9.2" text-anchor="end" textLength="24.3" lengthAdjust="spacingAndGlyphs">17000</text>
<text x="1880" y="698.8" font-size="9.2" text-anchor="end" textLength="24.3" lengthAdjust="spacingAndGlyphs">18000</text>
<text x="1880" y="688.5" font-size="9.2" text-anchor="end" textLength="24.3" lengthAdjust="spacingAndGlyphs">19000</text>
<text x="1880" y="678.2" font-size="9.2" text-anchor="end" textLength="24.3" lengthAdjust="spacingAndGlyphs">20000</text>
<text x="1880" y="668.0" font-size="9.2" text-anchor="end" textLength="24.3" lengthAdjust="spacingAndGlyphs">21000</text>
<text x="1880" y="657.7" font-size="9.2" text-anchor="end" textLength="24.3" lengthAdjust="spacingAndGlyphs">22000</text>
<text x="1849.8" y="859.9" font-size="6" textLength="18" lengthAdjust="spacingAndGlyphs">x1000</text>
<text x="782.9" y="10.4" font-size="10" textLength="79.1" lengthAdjust="spacingAndGlyphs">GLAXOSMITHKLINE</text>
<text x="864" y="10.4" font-size="10" textLength="38.4" lengthAdjust="spacingAndGlyphs">(1,413.50,</text>
<text x="906.2" y="10.4" font-size="10" textLength="37.0" lengthAdjust="spacingAndGlyphs">1,430.28,</text>
<text x="945.8" y="10.4" font-size="10" textLength="36.8" lengthAdjust="spacingAndGlyphs">1,412.00,</text>
<text x="984.7" y="10.4" font-size="10" textLength="37.0" lengthAdjust="spacingAndGlyphs">1,424.50,</text>
<text x="1023.1" y="10.4" font-size="10" textLength="41.1" lengthAdjust="spacingAndGlyphs">+9.50000)</text>
</g>
<path class="k" d="M1848.5 854.5 v8.5 M1869.5 854.5 v8.5" shape-rendering="crispEdges"/>
<g class="bl" font-size="14.5">
<text x="1435.2" y="98.5" textLength="223.5" lengthAdjust="spacing">if this can finish above 1382 then</text>
<text x="1439" y="116.5" textLength="202.7" lengthAdjust="spacing">it could be a possible 123 low.</text>
<text x="1435.2" y="134.6" textLength="167.3" lengthAdjust="spacing">Id then target 1500 area.</text>
<text x="1435.2" y="152.6" textLength="199" lengthAdjust="spacing">stops would have to be below</text>
<text x="1435.2" y="170.7" textLength="33.3" lengthAdjust="spacing">1327</text>
</g>
<g class="bl" font-size="9.5">
<text x="1470" y="400.2">1</text><text x="1616.4" y="400.2">3</text><text x="1576.5" y="571.2">2</text>
</g>
</svg></body></html>
